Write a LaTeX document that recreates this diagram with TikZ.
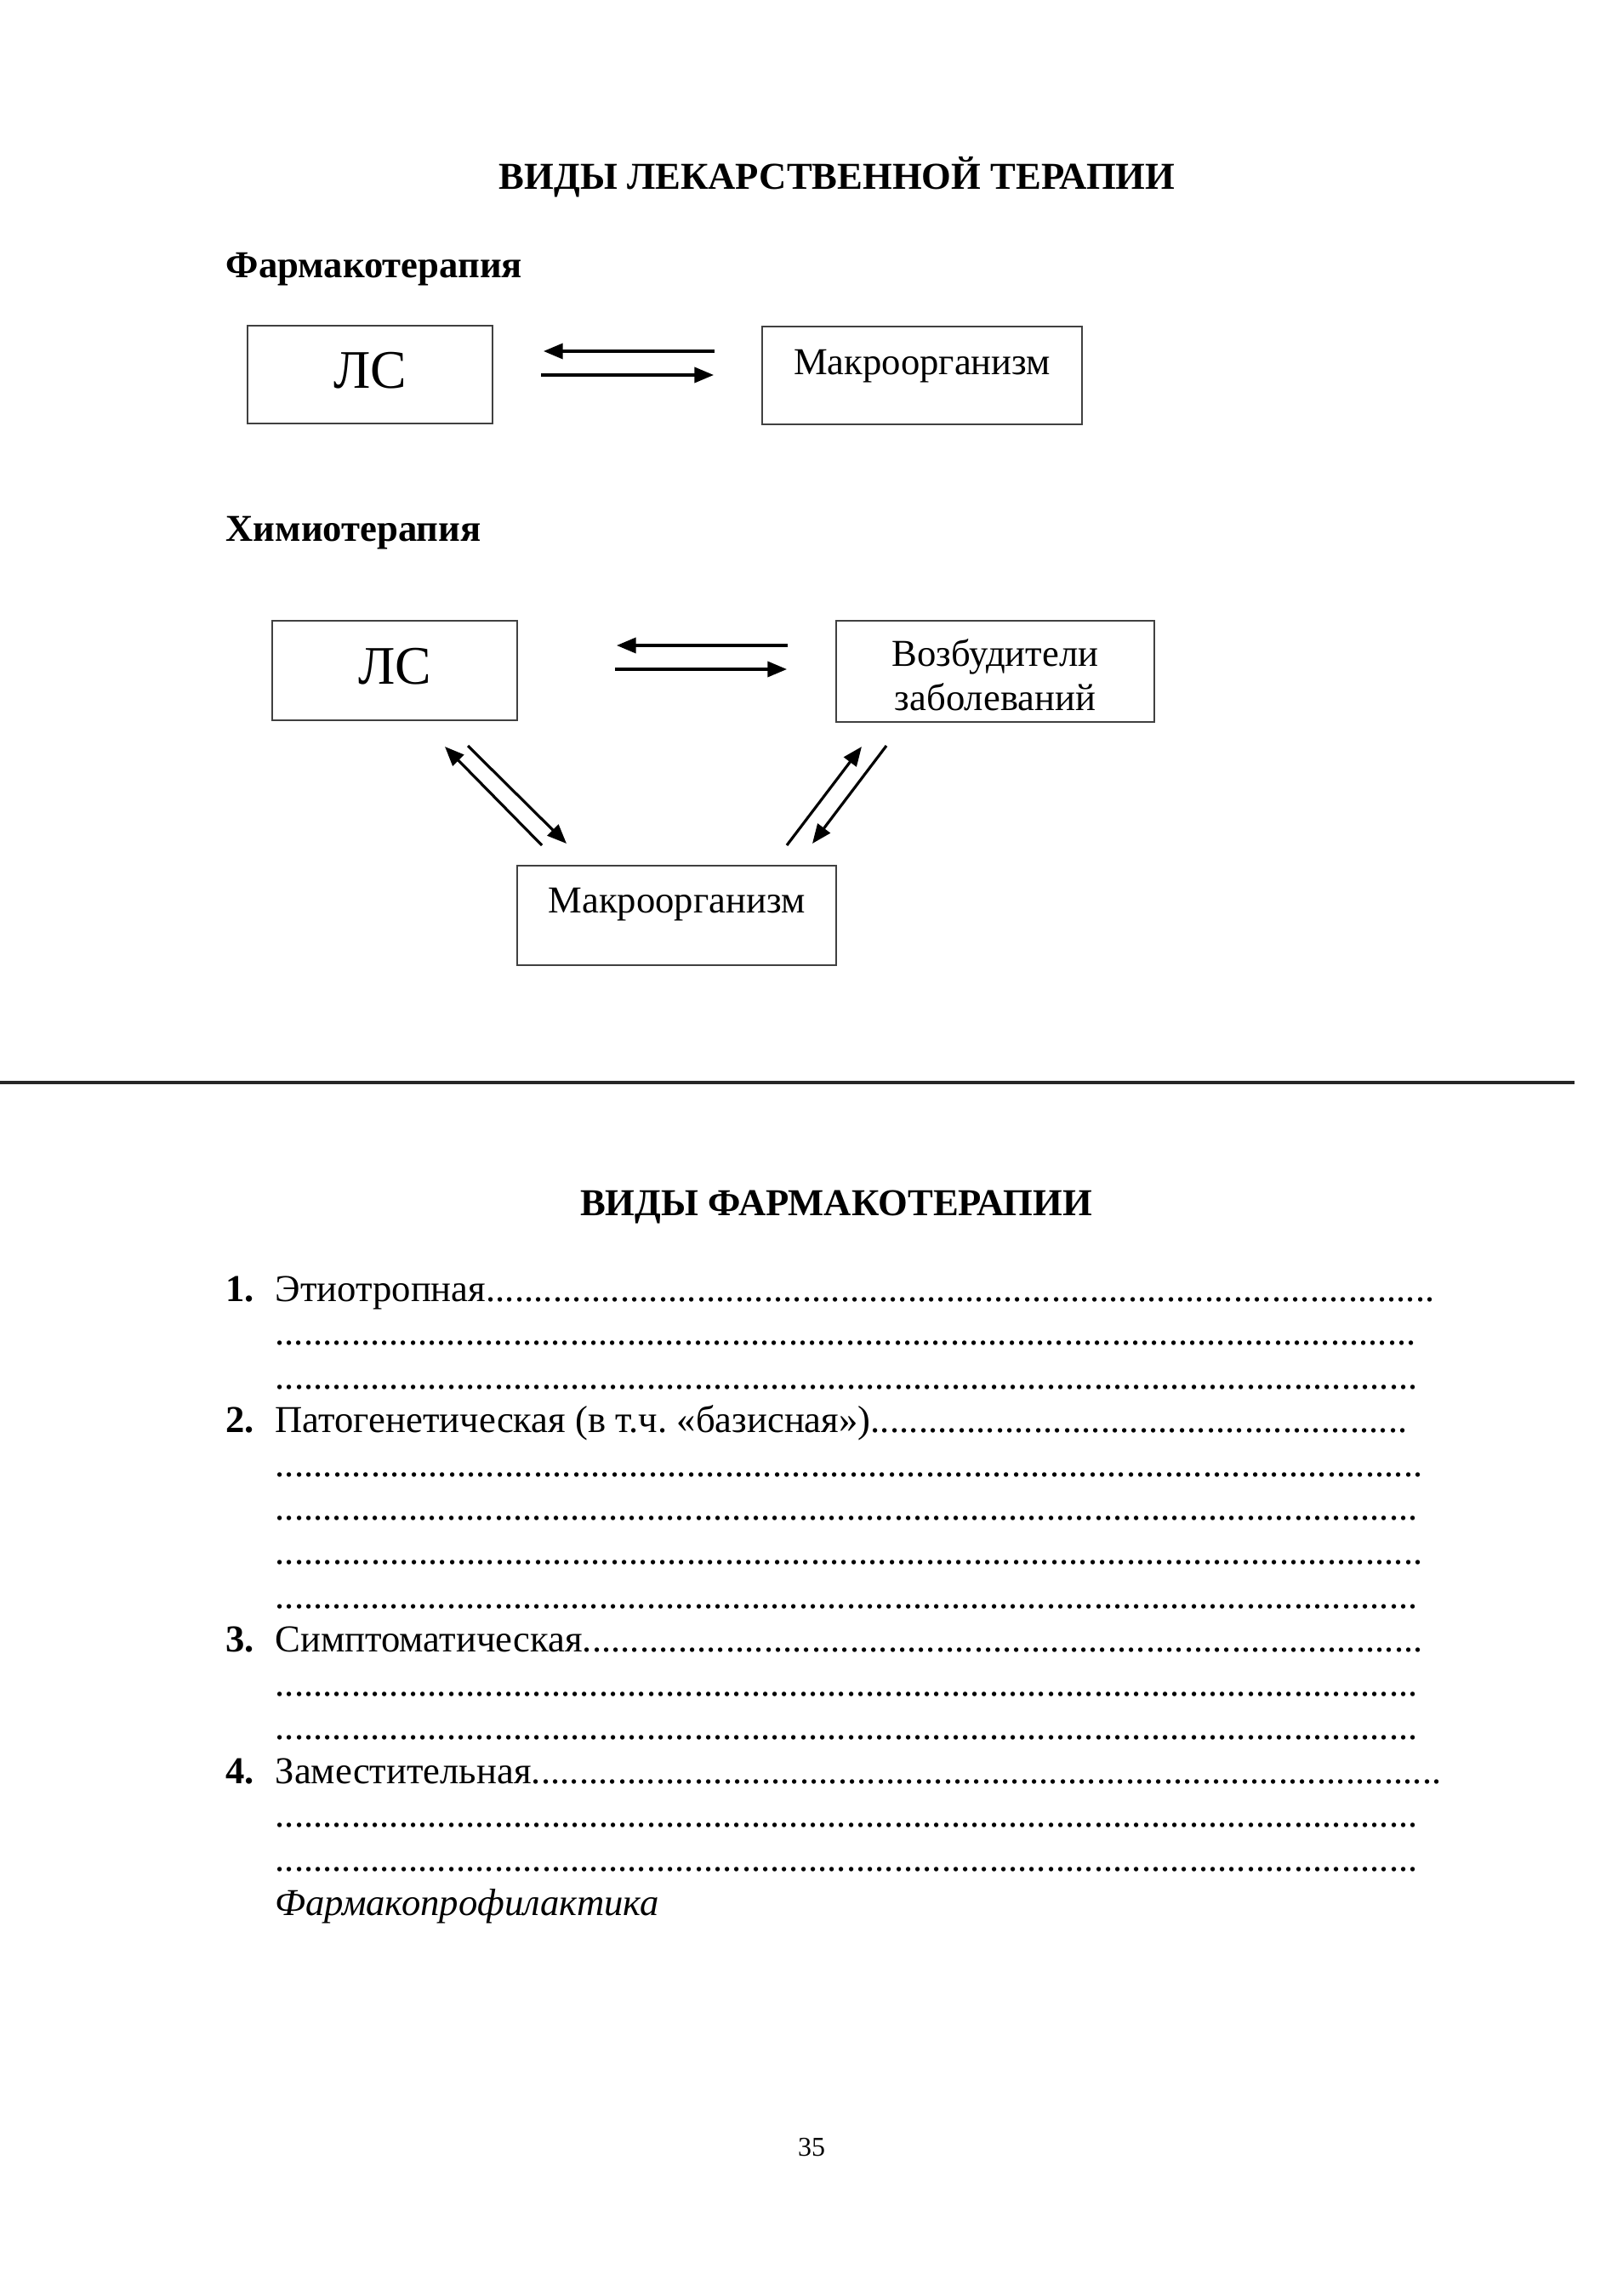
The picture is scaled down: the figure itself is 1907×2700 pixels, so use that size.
\documentclass[tikz,border=0pt]{standalone}
\usepackage{fontspec}
\setmainfont{Liberation Serif}
\usetikzlibrary{arrows.meta}
\frenchspacing
\newdimen\px \px=0.11012mm
\newcommand\dotrow[2]{\hbox to #1\px{#2\xleaders\hbox{.}\hfill}}
\tikzset{
  box/.style={draw=black!75, line width=0.65pt, rectangle, inner sep=0pt},
  txt/.style={inner sep=0pt, font=\fontsize{14}{16}\selectfont},
  btxt/.style={inner sep=0pt, font=\fontsize{14}{16}\selectfont\bfseries},
  big/.style={inner sep=0pt, font=\fontsize{20}{24}\selectfont},
  arr/.style={line width=1pt, -{Triangle[length=2.5mm,width=2mm]}},
}
\begin{document}
\begin{tikzpicture}[x=0.11012mm,y=-0.11012mm]
\useasboundingbox (0,0) rectangle (1907,2700);
\fill[white] (0,0) rectangle (1907,2700);

% Titles
\node[btxt, anchor=base] (title1) at (984,223) {ВИДЫ ЛЕКАРСТВЕННОЙ ТЕРАПИИ};
\node[btxt, anchor=base west] (pharm) at (265,327) {Фармакотерапия};
\node[btxt, anchor=base west] (chemo) at (265,637) {Химиотерапия};

% Pharmacotherapy boxes
\node[box, minimum width=288\px, minimum height=115\px] (ls1) at (435,440.5) {};
\node[big, anchor=base] (ls1t) at (435,457) {ЛС};
\node[box, minimum width=376\px, minimum height=115\px] (mo1) at (1084,441.5) {};
\node[txt, anchor=base] (mo1t) at (1084,441) {Макроорганизм};

\coordinate (a1s) at (840,413); \coordinate (a1e) at (639,413);
\coordinate (a2s) at (636,441); \coordinate (a2e) at (839,441);
\draw[arr] (a1s) -- (a1e);
\draw[arr] (a2s) -- (a2e);

% Chemotherapy boxes
\node[box, minimum width=288\px, minimum height=117\px] (ls2) at (464,788.5) {};
\node[big, anchor=base] (ls2t) at (464,804) {ЛС};
\node[box, minimum width=374\px, minimum height=119\px] (vz) at (1170,789.5) {};
\node[txt, anchor=base] (vzt1) at (1170,783) {Возбудители};
\node[txt, anchor=base] (vzt2) at (1170,835) {заболеваний};
\node[box, minimum width=375\px, minimum height=117\px] (mo2) at (795.5,1076.5) {};
\node[txt, anchor=base] (mo2t) at (795.5,1073) {Макроорганизм};

\coordinate (b1s) at (926,759); \coordinate (b1e) at (725,759);
\coordinate (b2s) at (723,787); \coordinate (b2e) at (925,787);
\draw[arr] (b1s) -- (b1e);
\draw[arr] (b2s) -- (b2e);

\coordinate (c1s) at (637,994); \coordinate (c1e) at (523,878);
\coordinate (c2s) at (550,877); \coordinate (c2e) at (666,992);
\draw[arr] (c1s) -- (c1e);
\draw[arr] (c2s) -- (c2e);

\coordinate (d1s) at (925,994); \coordinate (d1e) at (1013,878);
\coordinate (d2s) at (1042,877); \coordinate (d2e) at (955,992);
\draw[arr] (d1s) -- (d1e);
\draw[arr] (d2s) -- (d2e);

% Separator
\coordinate (sepL) at (0,1273); \coordinate (sepR) at (1851,1273);
\draw[line width=1.1pt, black!85] (sepL) -- (sepR);

% Second part
\node[btxt, anchor=base] (title2) at (983,1429) {ВИДЫ ФАРМАКОТЕРАПИИ};

\node[btxt, anchor=base west] (n1) at (265,1530) {1.};
\node[btxt, anchor=base west] (n2) at (265,1684.7) {2.};
\node[btxt, anchor=base west] (n3) at (265,1942.6) {3.};
\node[btxt, anchor=base west] (n4) at (265,2097.3) {4.};

\node[txt, anchor=base west] (l1) at (323,1530) {\dotrow{1363}{Этиотропная}};
\node[txt, anchor=base west] (l2) at (323,1581.6) {\dotrow{1341}{}};
\node[txt, anchor=base west] (l3) at (323,1633.1) {\dotrow{1343}{}};
\node[txt, anchor=base west] (l4) at (323,1684.7) {\dotrow{1331}{Патогенетическая (в т.ч. «базисная»)}};
\node[txt, anchor=base west] (l5) at (323,1736.3) {\dotrow{1349}{}};
\node[txt, anchor=base west] (l6) at (323,1787.9) {\dotrow{1343}{}};
\node[txt, anchor=base west] (l7) at (323,1839.4) {\dotrow{1349}{}};
\node[txt, anchor=base west] (l8) at (323,1891) {\dotrow{1343}{}};
\node[txt, anchor=base west] (l9) at (323,1942.6) {\dotrow{1349}{Симптоматическая}};
\node[txt, anchor=base west] (l10) at (323,1994.1) {\dotrow{1343}{}};
\node[txt, anchor=base west] (l11) at (323,2045.7) {\dotrow{1343}{}};
\node[txt, anchor=base west] (l12) at (323,2097.3) {\dotrow{1371}{Заместительная}};
\node[txt, anchor=base west] (l13) at (323,2148.8) {\dotrow{1343}{}};
\node[txt, anchor=base west] (l14) at (323,2200.4) {\dotrow{1343}{}};
\node[txt, anchor=base west] (l15) at (323,2252) {\itshape Фармакопрофилактика};

\node[inner sep=0pt, anchor=base, font=\fontsize{10}{12}\selectfont] (pg) at (954,2535) {35};
\end{tikzpicture}
\end{document}
